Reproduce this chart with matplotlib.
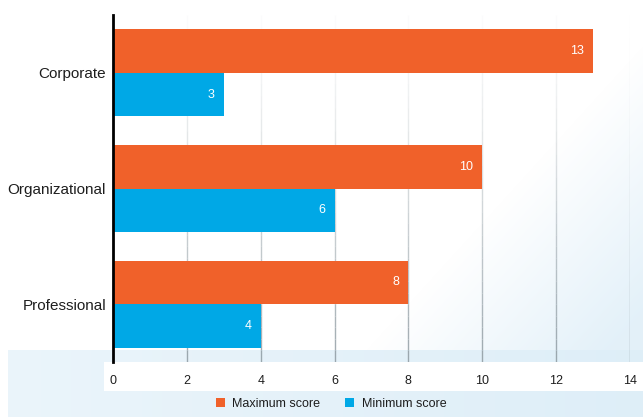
import numpy as np
import matplotlib
matplotlib.use("Agg")
import matplotlib.pyplot as plt

categories = ["Corporate", "Organizational", "Professional"]
max_scores = [13, 10, 8]
min_scores = [3, 6, 4]
series_names = ["Maximum score", "Minimum score"]
xticks = [0, 2, 4, 6, 8, 10, 12, 14]

ORANGE = "#f0612a"
BLUE = "#00a8e6"
TEXT = "#1e1e1e"

plt.rcParams['font.family'] = ['Liberation Sans Narrow', 'Liberation Sans', 'DejaVu Sans']

W, H = 643, 417
fig = plt.figure(figsize=(W / 100, H / 100), dpi=100)

# background gradient
bg = fig.add_axes([0, 0, 1, 1], zorder=-10)
yy, xx = np.mgrid[0:H, 0:W]
alpha = np.zeros((H, W))
diag = np.clip(((xx - 400) / 243 + (yy - 150) / 267) - 0.6, 0, 1) * 0.55
alpha = np.maximum(alpha, diag)
strip = (xx >= 8) & (yy >= 350)
alpha[strip] = np.maximum(alpha[strip], 0.40 + 0.25 * (xx[strip] / W))
alpha[(xx >= 104) & (yy >= 362) & (yy <= 390)] = 0
alpha = np.clip(alpha, 0, 1)
img = np.zeros((H, W, 4))
img[..., 0] = 0.80
img[..., 1] = 0.90
img[..., 2] = 0.96
img[..., 3] = alpha
bg.imshow(np.ones((H, W, 3)), extent=[0, W, H, 0], aspect='auto')
bg.imshow(img, extent=[0, W, H, 0], aspect='auto')
bg.set_xlim(0, W)
bg.set_ylim(H, 0)
bg.axis('off')

ax = fig.add_axes([113 / W, 1 - 362 / H, (630 - 113) / W, (362 - 15) / H])
ax.patch.set_alpha(0)

y = np.arange(len(categories))
h = 0.375
b1 = ax.barh(y - h / 2, max_scores, height=h, color=ORANGE, label=series_names[0], zorder=3)
b2 = ax.barh(y + h / 2, min_scores, height=h, color=BLUE, label=series_names[1], zorder=3)

for bars in (b1, b2):
    for r in bars:
        ax.text(r.get_width() - 0.25, r.get_y() + r.get_height() / 2, f"{int(r.get_width())}",
                ha='right', va='center', color='white', fontsize=9, zorder=4)

# gradient gridlines
for xv in xticks[1:]:
    segs = 30
    ys = np.linspace(-0.5, 2.5, segs + 1)
    for i in range(segs):
        a = 0.03 + 0.85 * (i / segs) ** 1.3
        ax.plot([xv, xv], [ys[i], ys[i + 1]], color='#8e9aa1', lw=1.0, alpha=a,
                zorder=1, solid_capstyle='butt')

ax.set_xlim(0, 14)
ax.set_ylim(2.5, -0.5)
ax.set_yticks(y)
ax.set_yticklabels(categories, fontsize=11, color=TEXT)
ax.set_xticks(xticks)
ax.set_xticklabels([str(t) for t in xticks], fontsize=9, color=TEXT)
ax.tick_params(axis='both', length=0)
ax.tick_params(axis='x', pad=9)
ax.tick_params(axis='y', pad=5)
for s in ['top', 'right', 'bottom']:
    ax.spines[s].set_visible(False)
ax.spines['left'].set_linewidth(2)
ax.spines['left'].set_color('black')
ax.spines['left'].set_zorder(5)

fig.legend(handles=[b1, b2], labels=series_names, loc='center', bbox_to_anchor=(0.515, 0.031),
           ncol=2, frameon=False, fontsize=9, handlelength=0.7, handleheight=0.7,
           columnspacing=2.0, handletextpad=0.6, labelcolor=TEXT)

fig.savefig("out.png", dpi=100)
